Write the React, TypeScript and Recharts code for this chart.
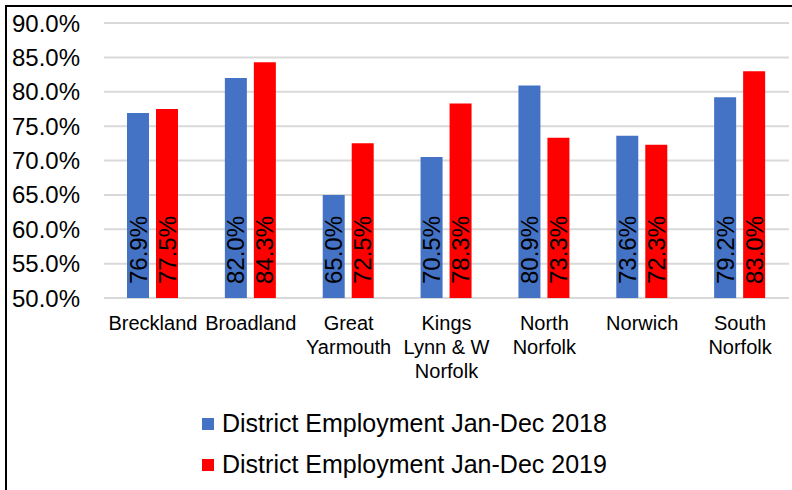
import { Bar, BarChart, CartesianGrid, LabelList, Legend, XAxis, YAxis } from 'recharts';

const districts = [
  'Breckland',
  'Broadland',
  'Great\nYarmouth',
  'Kings\nLynn & W\nNorfolk',
  'North\nNorfolk',
  'Norwich',
  'South\nNorfolk',
];
const employment2018 = [76.9, 82.0, 65.0, 70.5, 80.9, 73.6, 79.2];
const employment2019 = [77.5, 84.3, 72.5, 78.3, 73.3, 72.3, 83.0];
const yTicks = [50, 55, 60, 65, 70, 75, 80, 85, 90];
const seriesNames = ['District Employment Jan-Dec 2018', 'District Employment Jan-Dec 2019'];

const FONT = '"Liberation Sans", Arial, sans-serif';

function CategoryTick({ x, y, payload }: any) {
  const lines = String(payload.value).split('\n');
  return (
    <text x={x} y={y} textAnchor="middle" fontSize={20} fill="#000">
      {lines.map((line, i) => (
        <tspan key={i} x={x} dy={i === 0 ? 32 : 24}>
          {line}
        </tspan>
      ))}
    </text>
  );
}

/** Value written upwards from the base of each bar, as Excel's "inside base". */
function BaseLabel({ x, y, width, height, value }: any) {
  const cx = x + width / 2;
  const by = y + height - 14;
  return (
    <text
      x={cx}
      y={by}
      transform={`rotate(-90 ${cx} ${by})`}
      textAnchor="start"
      dominantBaseline="central"
      fontSize={24}
      fill="#000"
    >
      {`${Number(value).toFixed(1)}%`}
    </text>
  );
}

function LegendRows({ payload }: any) {
  return (
    <div>
      {(payload || []).map((entry: any) => (
        <div key={entry.value} style={{ display: 'flex', alignItems: 'center', height: 41 }}>
          <span style={{ width: 12, height: 12, background: entry.color, marginRight: 8 }} />
          <span style={{ fontSize: 25, color: '#000', whiteSpace: 'nowrap' }}>{entry.value}</span>
        </div>
      ))}
    </div>
  );
}

export default function App() {
  const data = districts.map((name, i) => ({
    name,
    y2018: employment2018[i],
    y2019: employment2019[i],
  }));

  return (
    <div
      style={{
        position: 'absolute',
        left: 5,
        top: 5,
        width: 787,
        height: 485,
        borderTop: '2px solid #000',
        borderLeft: '2px solid #000',
        boxSizing: 'border-box',
        background: '#fff',
        fontFamily: FONT,
      }}
    >
      <BarChart
        width={785}
        height={483}
        data={data}
        margin={{ top: 16, right: 3, bottom: 92, left: 0 }}
        barSize={22}
        barGap={7}
      >
        <CartesianGrid vertical={false} stroke="#d9d9d9" strokeWidth={2} />
        <XAxis
          dataKey="name"
          axisLine={false}
          tickLine={false}
          tickSize={0}
          tickMargin={0}
          interval={0}
          height={100}
          tick={<CategoryTick />}
        />
        <YAxis
          domain={[50, 90]}
          ticks={yTicks}
          axisLine={false}
          tickLine={false}
          tickSize={0}
          tickMargin={24}
          width={97}
          tick={{ fill: '#000', fontSize: 24 }}
          tickFormatter={(v: number) => `${v.toFixed(1)}%`}
        />
        <Legend
          layout="vertical"
          align="center"
          verticalAlign="middle"
          wrapperStyle={{ left: 195, top: 396, width: 'auto' }}
          content={<LegendRows />}
        />
        <Bar dataKey="y2018" name={seriesNames[0]} fill="#4472C4" isAnimationActive={false}>
          <LabelList dataKey="y2018" content={<BaseLabel />} />
        </Bar>
        <Bar dataKey="y2019" name={seriesNames[1]} fill="#FF0000" isAnimationActive={false}>
          <LabelList dataKey="y2019" content={<BaseLabel />} />
        </Bar>
      </BarChart>
    </div>
  );
}
